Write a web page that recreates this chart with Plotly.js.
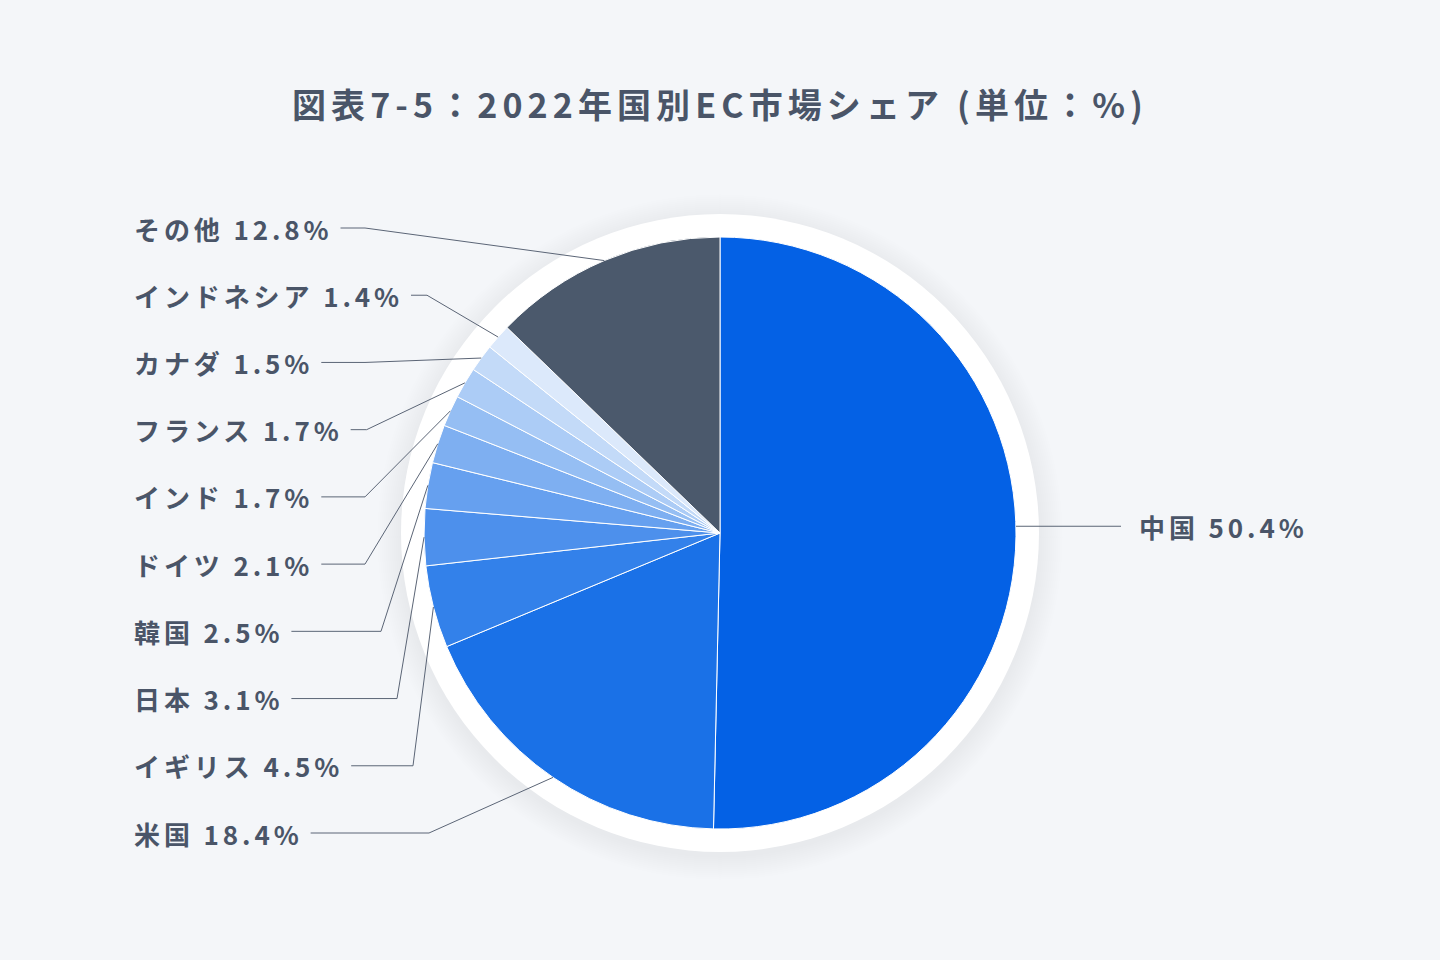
<!DOCTYPE html>
<html>
<head>
<meta charset="utf-8">
<script src="https://cdn.plot.ly/plotly-3.0.1.min.js"></script>
<style>
html, body { margin: 0; padding: 0; background: #F4F6F9; }
#chart { width: 1440px; height: 960px; }
#chart text, #js-plotly-tester text { letter-spacing: 0.15em; }
</style>
</head>
<body>
<div id="chart"></div>
<script>
// ---- data ----
const countries = ["中国", "米国", "イギリス", "日本", "韓国", "ドイツ", "インド", "フランス", "カナダ", "インドネシア", "その他"];
const shares = [50.4, 18.4, 4.5, 3.1, 2.5, 2.1, 1.7, 1.7, 1.5, 1.4, 12.8];
const sliceColors = ["#0461E5", "#1A71E7", "#3381EA", "#4D90EC", "#66A0EF", "#7EAFF1", "#95BEF3", "#ACCCF6", "#C3DAF8", "#DCE9FB", "#4B596C"];
const chartTitle = "図表7-5：2022年国別EC市場シェア (単位：%)";

// ---- layout constants ----
const W = 1440, H = 960;
const CX = 720, CY = 533, R = 296, RING = 319;
const FONT = "'Noto Sans CJK JP', 'Noto Sans', sans-serif";
const TXT = "#4A5568";
const LINE = "#5B6576";
const LEFT_X = 132, TOP_Y = 228, BOTTOM_Y = 833, RIGHT_X = 1137;

const px = x => x / W;
const py = y => 1 - y / H;

const total = shares.reduce((a, b) => a + b, 0);
let cum = 0;
const anchors = shares.map(v => {
  const mid = cum + v / 2;
  cum += v;
  const th = 2 * Math.PI * mid / total;
  return { x: CX + R * Math.sin(th), y: CY - R * Math.cos(th) };
});

const labelText = i => countries[i] + " " + shares[i].toFixed(1) + "%";

// label placements: first slice on right, rest stacked on left (top = last slice)
const leftIdx = [];
for (let i = countries.length - 1; i >= 1; i--) leftIdx.push(i);
const step = (BOTTOM_Y - TOP_Y) / (leftIdx.length - 1);
const placements = {};
leftIdx.forEach((idx, k) => { placements[idx] = { x: LEFT_X, y: TOP_Y + k * step, side: "left", k: k }; });
placements[0] = { x: RIGHT_X, y: anchors[0].y - 10, side: "right" };

const order = [0].concat(leftIdx);
const annotations = order.map(i => ({
  text: labelText(i),
  x: px(placements[i].x), y: py(placements[i].y),
  xref: "paper", yref: "paper",
  xanchor: "left", yanchor: "middle",
  showarrow: false,
  font: { family: FONT, size: 26, color: TXT, weight: 700 }
}));

// background ring + soft shadow
const shapes = [];
for (let k = 12; k >= 1; k--) {
  const r = RING + k * 2;
  shapes.push({
    type: "circle", xref: "paper", yref: "paper", layer: "below",
    x0: px(CX - r), x1: px(CX + r), y0: py(CY + 4 + r), y1: py(CY + 4 - r),
    fillcolor: "rgba(0,0,0,0.0055)", line: { width: 0 }
  });
}
shapes.push({
  type: "circle", xref: "paper", yref: "paper", layer: "below",
  x0: px(CX - RING), x1: px(CX + RING), y0: py(CY + RING), y1: py(CY - RING),
  fillcolor: "#FFFFFF", line: { width: 0 }
});

const trace = {
  type: "pie",
  labels: countries,
  values: shares,
  sort: false,
  direction: "clockwise",
  rotation: 0,
  textinfo: "none",
  hoverinfo: "label+percent",
  marker: { colors: sliceColors, line: { color: "#FFFFFF", width: 1 } },
  domain: { x: [px(CX - R), px(CX + R)], y: [py(CY + R), py(CY - R)] },
  showlegend: false
};

const layout = {
  width: W, height: H,
  margin: { l: 0, r: 0, t: 0, b: 0 },
  paper_bgcolor: "#F4F6F9",
  plot_bgcolor: "#F4F6F9",
  showlegend: false,
  title: {
    text: chartTitle,
    x: 0.5, xanchor: "center",
    y: 1 - 106 / H, yanchor: "middle",
    font: { family: FONT, size: 34, color: TXT, weight: 700 }
  },
  annotations: annotations,
  shapes: shapes
};

Plotly.newPlot("chart", [trace], layout, { displayModeBar: false, staticPlot: true }).then(gd => {
  const nodes = gd.querySelectorAll(".annotation .annotation-text");
  const lines = [];
  order.forEach((i, k) => {
    const bb = nodes[k].getBoundingClientRect();
    const a = anchors[i];
    const p = placements[i];
    let path;
    if (p.side === "left") {
      const x0 = bb.right + 8;
      // bends step outward for the lower labels so the leaders fan out without crossing
      const lowerBoost = Math.max(0, p.k - 5) * 16;
      const bend = Math.min(a.x - 4, Math.max(365 + lowerBoost, x0 + 16));
      path = `M${px(x0)},${py(p.y)} L${px(bend)},${py(p.y)} L${px(a.x)},${py(a.y)}`;
    } else {
      const x1 = bb.left - 18;
      path = `M${px(a.x)},${py(p.y)} L${px(x1)},${py(p.y)}`;
    }
    lines.push({ type: "path", xref: "paper", yref: "paper", layer: "above", path: path, line: { color: LINE, width: 1 } });
  });
  Plotly.relayout(gd, { shapes: shapes.concat(lines) });
});
</script>
</body>
</html>
